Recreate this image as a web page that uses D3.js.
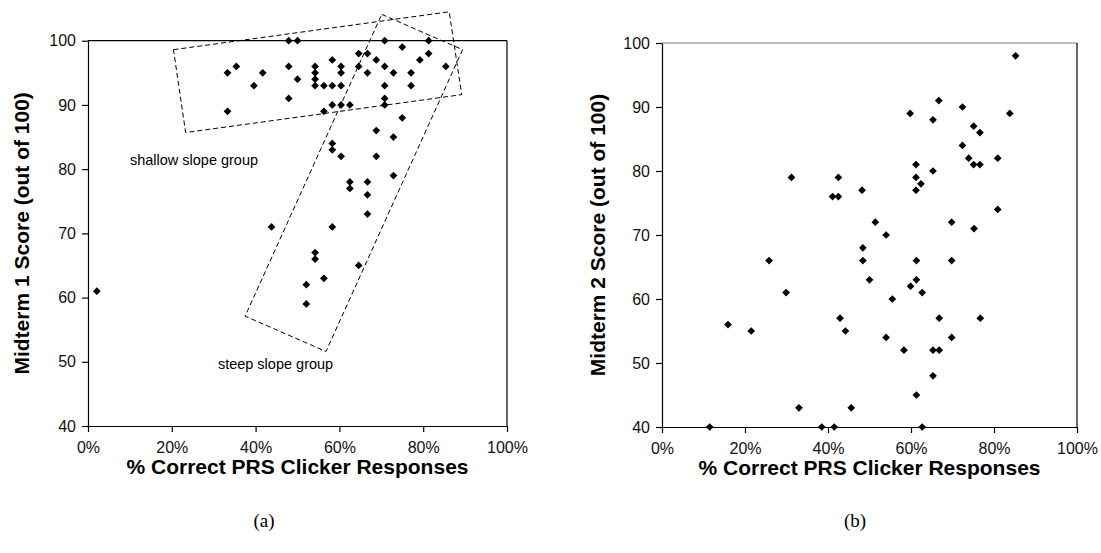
<!DOCTYPE html>
<html>
<head>
<meta charset="utf-8">
<script src="https://cdn.jsdelivr.net/npm/d3@7"></script>
<style>
    body { margin: 0; background: #fff; }
    svg { display: block; font-family: "Liberation Sans", Arial, sans-serif; }
</style>
</head>
<body>
<svg width="1101" height="553"></svg>
<script>
// ---- Dados (a) Midterm 1
const m1Correct = [2.1, 33.3, 33.3, 35.4, 39.6, 41.7, 43.8,
    47.9, 47.9, 47.9, 50.0, 50.0, 52.1, 52.1,
    54.2, 54.2, 54.2, 54.2, 54.2, 54.2, 56.3, 56.3, 56.3,
    58.3, 58.3, 58.3, 58.3, 58.3, 58.3, 60.4, 60.4, 60.4, 60.4, 60.4,
    62.5, 62.5, 62.5, 64.6, 64.6, 64.6, 66.7, 66.7, 66.7, 66.7, 66.7,
    68.8, 68.8, 68.8, 70.8, 70.8, 70.8, 70.8, 70.8, 72.9, 72.9, 72.9,
    75.0, 75.0, 77.1, 77.1, 79.2, 81.3, 81.3, 85.4];
const m1Score = [61, 95, 89, 96, 93, 95, 71,
    100, 96, 91, 100, 94, 62, 59,
    96, 95, 94, 93, 67, 66, 93, 89, 63,
    97, 93, 90, 84, 83, 71, 96, 95, 93, 90, 82,
    90, 78, 77, 98, 96, 65, 98, 95, 78, 76, 73,
    97, 86, 82, 100, 96, 93, 91, 90, 95, 85, 79,
    99, 88, 95, 93, 97, 100, 98, 96];

// ---- Dados (b) Midterm 2
const m2Correct = [85.2, 83.8, 59.8, 66.7, 72.4, 65.3, 75.1, 76.6, 72.4, 73.9,
    80.9, 75.1, 76.6, 61.2, 65.3, 61.2, 62.4, 61.2, 31.2, 42.5,
    41.1, 42.5, 48.2, 80.9, 51.4, 69.8, 75.2, 54.0, 48.4, 25.8,
    48.4, 61.3, 69.8, 50.0, 61.3, 59.9, 29.9, 62.7, 55.5, 15.9,
    42.9, 66.8, 76.7, 21.5, 44.2, 54.0, 69.8, 58.3, 65.3, 66.8,
    65.3, 61.3, 33.0, 45.6, 11.5, 38.5, 41.5, 62.7];
const m2Score = [98, 89, 89, 91, 90, 88, 87, 86, 84, 82,
    82, 81, 81, 81, 80, 79, 78, 77, 79, 79,
    76, 76, 77, 74, 72, 72, 71, 70, 68, 66,
    66, 66, 66, 63, 63, 62, 61, 61, 60, 56,
    57, 57, 57, 55, 55, 54, 54, 52, 52, 52,
    48, 45, 43, 43, 40, 40, 40, 40];

const xTicks = [0, 20, 40, 60, 80, 100];
const yTicks = [40, 50, 60, 70, 80, 90, 100];

// cantos das caixas tracejadas (% , nota)
const shallowBox = [[20.4, 98.6], [86.2, 104.5], [89.2, 91.6], [23.3, 85.7]];
const steepBox = [[70.1, 104.1], [89.4, 98.6], [56.8, 51.6], [37.5, 57.1]];

const svg = d3.select('svg');

const plotScatter = (data, box, labels) => {
    const g = svg.append('g');

    // ---- Escalas
    const mapX = d3.scaleLinear().domain([0, 100]).range([box.left, box.right]);
    const mapY = d3.scaleLinear().domain([40, 100]).range([box.bottom, box.top]);

    // borda superior e direita da area
    g.append('line')
        .attr('x1', box.left).attr('x2', box.right)
        .attr('y1', mapY(100)).attr('y2', mapY(100))
        .attr('stroke', labels.topColor).attr('stroke-width', 1.2);
    g.append('line')
        .attr('x1', box.right).attr('x2', box.right)
        .attr('y1', box.top).attr('y2', box.bottom)
        .attr('stroke', '#000').attr('stroke-width', 1.2);

    // ---- Eixos
    const xAxis = d3.axisBottom(mapX)
        .tickValues(xTicks)
        .tickSizeInner(6).tickSizeOuter(0).tickPadding(10)
        .tickFormat(d => d + '%');
    const groupX = g.append('g')
        .attr('transform', `translate(0, ${box.bottom})`)
        .call(xAxis);

    const yAxis = d3.axisLeft(mapY)
        .tickValues(yTicks)
        .tickSizeInner(6).tickSizeOuter(0).tickPadding(6);
    const groupY = g.append('g')
        .attr('transform', `translate(${box.left}, 0)`)
        .call(yAxis);

    [groupX, groupY].forEach(ax => {
        ax.selectAll('path, line').attr('stroke', '#000').attr('stroke-width', 1.2);
        ax.selectAll('text')
            .attr('fill', '#111')
            .style('font-size', '16px')
            .style('font-family', '"Liberation Sans", Arial, sans-serif');
    });

    g.append('text')
        .attr('x', (box.left + box.right) / 2)
        .attr('y', box.bottom + 48)
        .attr('text-anchor', 'middle')
        .style('font-size', '21px')
        .style('font-weight', 'bold')
        .text('% Correct PRS Clicker Responses');

    g.append('text')
        .attr('transform', 'rotate(-90)')
        .attr('x', -(box.top + box.bottom) / 2)
        .attr('y', labels.yTitleX)
        .attr('dy', '0.35em')
        .attr('text-anchor', 'middle')
        .style('font-size', '21px')
        .style('font-weight', 'bold')
        .text(labels.y);

    g.append('text')
        .attr('x', labels.captionX)
        .attr('y', 527)
        .attr('text-anchor', 'middle')
        .style('font-family', '"Liberation Serif", "Times New Roman", serif')
        .style('font-size', '19px')
        .text(labels.caption);

    // ---- Pontos
    const diamond = d3.symbol().type(d3.symbolSquare).size(30);
    g.selectAll('path.pt')
        .data(data)
        .join('path')
        .attr('class', 'pt')
        .attr('d', diamond)
        .attr('transform', d => `translate(${mapX(d.x)}, ${mapY(d.y)}) rotate(45)`)
        .attr('fill', '#000');

    return { g, mapX, mapY };
};

const chartA = plotScatter(
    m1Correct.map((x, i) => ({ x, y: m1Score[i] })),
    { left: 88, right: 507, top: 40.7, bottom: 426 },
    { y: 'Midterm 1 Score (out of 100)', yTitleX: 22, caption: '(a)', captionX: 264, topColor: '#000' }
);

const chartB = plotScatter(
    m2Correct.map((x, i) => ({ x, y: m2Score[i] })),
    { left: 662, right: 1077, top: 43, bottom: 427 },
    { y: 'Midterm 2 Score (out of 100)', yTitleX: 598, caption: '(b)', captionX: 855, topColor: '#808080' }
);

// ---- Anotacoes (a)
const boxLine = d3.line()
    .x(d => chartA.mapX(d[0]))
    .y(d => chartA.mapY(d[1]))
    .curve(d3.curveLinearClosed);

[shallowBox, steepBox].forEach(c => {
    chartA.g.append('path')
        .attr('d', boxLine(c))
        .attr('fill', 'none')
        .attr('stroke', '#000')
        .attr('stroke-width', 1)
        .attr('stroke-dasharray', '5,3');
});

chartA.g.append('text')
    .attr('x', chartA.mapX(10))
    .attr('y', chartA.mapY(80.6))
    .style('font-size', '14.5px')
    .text('shallow slope group');

chartA.g.append('text')
    .attr('x', chartA.mapX(31))
    .attr('y', chartA.mapY(48.9))
    .style('font-size', '14.5px')
    .text('steep slope group');
</script>
</body>
</html>
